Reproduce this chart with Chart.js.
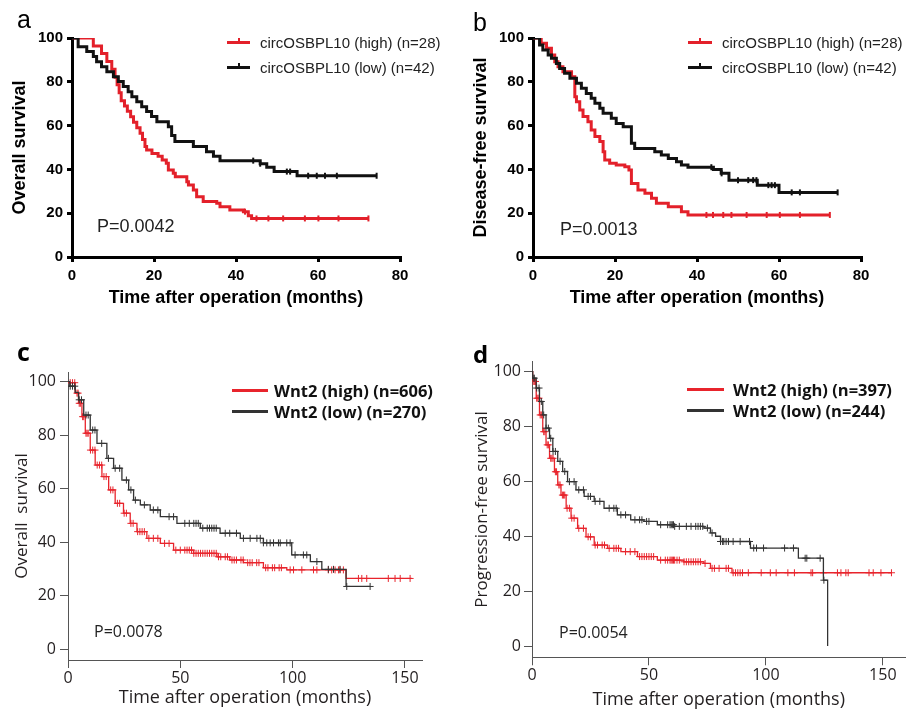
<!DOCTYPE html>
<html><head><meta charset="utf-8">
<script src="https://cdn.jsdelivr.net/npm/chart.js@4.4.1/dist/chart.umd.min.js"></script>
<style>
html,body{margin:0;padding:0;background:#fff;}
#wrap{position:relative;width:910px;height:710px;overflow:hidden;background:#fff;}
canvas{position:absolute;}
.txt{position:absolute;white-space:nowrap;transform:translateY(-50%);}
</style></head><body>
<div id="wrap">
<canvas id="ca" width="455" height="320" style="left:0;top:0"></canvas>
<canvas id="cb" width="455" height="320" style="left:455px;top:0"></canvas>
<canvas id="cc" width="455" height="380" style="left:0;top:330px"></canvas>
<canvas id="cd" width="455" height="380" style="left:455px;top:330px"></canvas>
</div>
<script>
// ---------- Panel a: Overall survival, circOSBPL10 ----------
const aHighT = [0,5.2,7.2,8.5,9.7,10.5,11,11.5,12,12.8,13.5,14.3,15,15.8,16.6,17.2,17.8,18.2,19.5,21,22,23,23.5,24.7,25.2,28,28.4,29.6,30.4,32,35.3,36.1,38.5,41.8,43,43.8,72.3];
const aHighS = [100,96.4,92.9,89.3,85.7,82.1,78.6,75,71.4,69,66.5,64,61.5,59,56.5,53.6,50.5,48.9,47.3,46,44.3,42.8,39.7,38.2,36.7,34.4,32.9,30.6,27.5,25.3,24.5,23,21.5,20.7,18.8,17.6,17.6];
const aHighC = [42.2,45,47.9,51.5,56.8,60.1,65,72.3];
const aLowT = [0,1.5,3.6,5.2,6,7.2,8.5,10.1,11.3,12.5,13.7,14.6,15.8,17,18.2,19.4,20.7,23.5,24.3,25.1,29.6,32.8,34.5,36.1,45.9,47.5,49.3,54.9,74.3];
const aLowS = [100,96,93.8,91.5,89.2,86.9,84.6,82.3,80.1,77.8,75.5,73.2,70.9,68.6,66.4,64.1,61.8,59.5,55.5,52.7,50.4,48.1,46,44,42.6,41,39,37.1,37.1];
const aLowC = [44.2,45.9,52.4,53.2,57.6,59.7,61.7,64.6,74.3];

// ---------- Panel b: Disease-free survival, circOSBPL10 ----------
const bHighT = [0,2,3.3,4.5,5.3,6.1,7.3,9.4,10.2,10.6,11.4,12.2,13.4,14.2,15.1,16.3,17.1,17.5,18.7,20.3,22.4,23.4,24,25.6,27.3,28.9,30.1,33,36.2,37.8,72.4];
const bHighS = [100,97.6,95.3,92.2,89.1,86.9,84.6,82.3,73.2,70.9,67.1,64.1,61.8,58,55,52.7,48.1,44.3,42.8,42,41.2,39.7,33.6,30.6,29.1,26.8,24.5,23,20.7,19.2,19.2];
const bHighC = [42.3,43.9,46.4,48.4,52.1,57,60.2,65.1,72.4];
const bLowT = [0,1.6,2.4,3.7,4.5,5.7,6.5,7.7,9,10.6,11.8,13,14.2,15.1,16.3,17.1,19.1,20.3,22,24,24.8,29.7,31.3,33,35,36.2,37.8,44,45.9,47.8,54.7,60,74.3];
const bLowS = [100,96.8,94.5,92.2,90.7,88.4,86.1,83.9,81.6,79.3,77,74.7,72.5,70.2,67.9,65.6,63.3,61,59.5,51.9,49.6,48.1,46.6,45,43.5,42,41,40,38.2,35.1,32.8,29.5,29.5];
const bLowC = [43.5,46,50,52.5,53.7,54.5,57.4,58.2,59,63.1,65.1,74.3];

// ---------- Panel c: Overall survival, Wnt2 ----------
const cHighT = [0,0.3,3.2,4.7,6.2,7.7,9.9,12.1,15.1,18.1,21,24.7,27.7,30.7,35.1,41.1,47,55.9,66.3,72,78.1,87,97.4,123.8,153];
const cHighS = [100,99.6,95.7,91.9,86.9,80.7,74.4,68.8,64.5,59.5,54.5,50.8,47,43.9,41.4,39.5,37,35.8,34.5,33.3,32.3,30.4,29.6,26.4,26.4];
const cHighC = [1,2,3,4,4.5,5,5.5,6.5,7,8,8.5,9,10,11,12,13,14,15,16,17,19,20,22,23,25,26,28,29,31,32,33,34,36,38,40,43,45,48,50,52,53,54,55,56,57,58,59,60,61,62,63,64,65,66,67,68,70,71,73,74,75,77,78,80,81,82,84,85,88,89,91,92,94,95,98.9,100.4,104.1,109.3,110.8,115.9,117.4,118.9,120.4,121.1,122.6,129.3,130.8,133,142.6,145.6,147.9,152.3];
const cLowT = [0,0.8,3.2,4.7,7,9.9,12.9,17.3,20.3,24,27,29.2,32.2,36.6,41.1,48.5,58.9,67.7,76.7,87,99.6,107.9,113,123.8,134.5];
const cLowS = [100,98.3,96,93.2,87.5,81.9,76.9,71.3,67.6,63.2,59.5,55.7,53.9,52,49.5,47,45.2,43.3,41.4,39.7,35.2,32.7,29.8,23.4,23.4];
const cLowC = [1,2,3,5,6,8,9,11,12,15,18,21,23,26,28,30,34,38,40,45,47,52,54,56,57,58,60,62,63,64,65,66,70,72,75,78.1,81.1,84.1,85.6,87,88.5,90,91.5,93.7,94.5,97.4,98.9,101.1,104.8,106.3,110.8,115.9,118.2,121.1,124.1,134.5];

// ---------- Panel d: Progression-free survival, Wnt2 ----------
const dHighT = [0,0.3,1.8,3.2,4.6,6,7.5,9.6,11,12.4,14.6,16.7,19.5,23.1,26.6,32.3,38,45.1,53.6,64.9,73.5,76.3,85.5,153.7];
const dHighS = [100,96.4,90.3,84.2,78.1,73.3,68.4,63.5,58.7,55,50.2,46.6,42.9,39.8,36.8,35.6,34.4,32.6,31.3,30.7,30.1,28.3,26.7,26.7];
const dHighC = [0.5,1,1.5,2,2.5,3,3.5,4,5,5.5,6.5,7,8,8.5,9,10,10.5,11.5,12,13,13.5,14,15,16,17,18,20,22,24,25,27,28,30,31,33,35,36,37,40,42,44,46,47,48,49,50,51,52,55,57,58,59,59.5,60,60.5,61,62,63,65,66,67,68,69,70,71,72,74,77,78,80,83,84,86,87,88,89,90,92.5,98,101.9,104.4,109.4,112.2,119.3,120,124.6,130.6,132.1,134.2,135.2,144.1,145.9,149.2,153.7];
const dLowT = [0,0.3,1.8,3.2,4.6,6,7.5,8.9,11,13.1,15.2,18.8,22.3,26.6,30.8,36.5,42.2,47.9,53.6,60.7,73.5,76.3,78.5,80.6,93.4,113.9,124.6,126.4];
const dLowS = [100,97.6,94,89.1,84.2,79.4,75.7,70.9,67.3,63.6,59.9,56.9,54.5,52.7,50.2,47.8,46,45.4,44.2,43.6,43,41.2,40,38.1,35.7,32,24,0];
const dLowC = [0.5,1,2,3,4,5,6,7,8,9,10,12,14,16,18,20,22,24,25,27,29,33,35,36,38,40,44,46,47,49,50,55,58,59,59.5,60,60.5,61,63,66,68,70,71,72,73,75,77,80.6,81.5,82,83,84,86,89,93,94.8,96,99,108,111.8,116.8,117.5,123.2,124.8];

// ---------- Tick labels ----------
const abXTicks = [0,20,40,60,80];
const abYTicks = [0,20,40,60,80,100];
const cdXTicks = [0,50,100,150];
const cdYTicks = [0,20,40,60,80,100];

// ---------- helpers ----------
function stepAt(T,S,t){let v=S[0];for(let i=0;i<T.length;i++){if(T[i]<=t)v=S[i];else break;}return v;}
function pts(T,S){return T.map((t,i)=>({x:t,y:S[i]}));}
function cens(C,T,S){return C.map(t=>({x:t,y:stepAt(T,S,t)}));}

function km(id,o){
  const ds=[];
  o.series.forEach(s=>ds.push({type:'line',label:s.label,data:pts(s.T,s.S),borderColor:s.color,backgroundColor:s.color,
    borderWidth:o.lw,stepped:true,pointRadius:0,pointHoverRadius:0,fill:false,tension:0,order:s.order}));
  o.series.forEach(s=>ds.push({type:'scatter',label:s.label+' (censored)',data:cens(s.C,s.T,s.S),borderColor:s.color,backgroundColor:s.color,
    pointStyle:o.cStyle,pointRotation:o.cRot,pointRadius:o.cR,pointHoverRadius:o.cR,pointBorderWidth:o.cW,showLine:false,order:s.order}));
  const axisCommon=(ticksArr,fitKey,fitVal,tickPad,title,titleFont,titlePad)=>({
    type:'linear',
    afterBuildTicks:s=>{s.ticks=ticksArr.map(v=>({value:v}));},
    afterFit:s=>{s[fitKey]=fitVal;},
    grid:{display:true,drawOnChartArea:false,drawTicks:true,tickLength:o.tl,tickWidth:o.tw,tickColor:o.ac,color:o.ac,lineWidth:o.tw},
    border:{display:true,color:o.ac,width:o.aw},
    ticks:{font:o.tickFont,color:o.tc,padding:tickPad,maxRotation:0,minRotation:0,autoSkip:false},
    title:{display:true,text:title,font:titleFont,color:o.tc,padding:titlePad}
  });
  const x=axisCommon(o.xTicks,'height',o.xH,o.xtp,o.xTitle,o.xTitleFont||o.titleFont,{top:0,bottom:o.xtb});
  x.min=o.xmin;x.max=o.xmax;x.position='bottom';
  const y=axisCommon(o.yTicks,'width',o.yW,o.ytp,o.yTitle,o.titleFont,{top:o.ytt,bottom:0});
  y.min=o.ymin;y.max=o.ymax;y.position='left';
  return new Chart(document.getElementById(id),{
    data:{datasets:ds},
    options:{responsive:false,animation:false,devicePixelRatio:1,
      layout:{padding:{left:0,bottom:0,top:o.pt,right:o.pr}},
      plugins:{legend:{display:false},tooltip:{enabled:false},title:{display:false}},
      scales:{x,y}}
  });
}

const wrap=document.getElementById('wrap');
function addText(txt,x,yc,font,color){
  const d=document.createElement('div');d.className='txt';d.textContent=txt;
  d.style.left=x+'px';d.style.top=yc+'px';d.style.font=font;d.style.color=color;wrap.appendChild(d);
}
function htmlLegend(chart,L){
  chart.data.datasets.filter(d=>d.type==='line').forEach((d,i)=>{
    const yc=L.y0+i*L.dy;
    const ln=document.createElement('div');
    ln.style.cssText=`position:absolute;left:${L.x}px;top:${yc-L.lh/2}px;width:${L.w}px;height:${L.lh}px;background:${d.borderColor}`;
    wrap.appendChild(ln);
    if(L.tick){const t=document.createElement('div');
      t.style.cssText=`position:absolute;left:${L.x+L.w/2-1}px;top:${yc-L.lh/2-3}px;width:2px;height:3px;background:${d.borderColor}`;
      wrap.appendChild(t);}
    addText(d.label,L.tx,yc,L.font,L.color);
  });
}

const RED_AB='#e3202a', BLK_AB='#111111', RED_CD='#e8242c', BLK_CD='#333333';
const ARIAL='"Liberation Sans", Arial, sans-serif';
const OPEN='"Open Sans", "Noto Sans", sans-serif';

const abBase={lw:3,cStyle:'line',cRot:90,cR:3,cW:2,tl:5,tw:3,ac:'#000',aw:3,tc:'#000',
  tickFont:{family:ARIAL,size:15,weight:'bold'},titleFont:{family:ARIAL,size:18,weight:'bold'},
  xmin:0,xmax:80,ymin:0,ymax:100,xTicks:abXTicks,yTicks:abYTicks,xH:63,xtp:5,xtb:11,pt:38,ytp:4,xTitle:'Time after operation (months)'};

const chA=km('ca',Object.assign({},abBase,{yW:72,pr:55,ytt:9,yTitle:'Overall survival',
  series:[{label:'circOSBPL10 (high) (n=28)',T:aHighT,S:aHighS,C:aHighC,color:RED_AB,order:2},
          {label:'circOSBPL10 (low) (n=42)',T:aLowT,S:aLowS,C:aLowC,color:BLK_AB,order:1}]}));
const chB=km('cb',Object.assign({},abBase,{yW:78,pr:49,ytt:15,yTitle:'Disease-free survival',
  series:[{label:'circOSBPL10 (high) (n=28)',T:bHighT,S:bHighS,C:bHighC,color:RED_AB,order:2},
          {label:'circOSBPL10 (low) (n=42)',T:bLowT,S:bLowS,C:bLowC,color:BLK_AB,order:1}]}));

const cdBase={lw:1.3,cStyle:'cross',cRot:0,cR:3.5,cW:1,tl:8,tw:1,ac:'#555',aw:1,tc:'#231f20',
  tickFont:{family:OPEN,size:16},titleFont:{family:OPEN,size:17},xTitleFont:{family:OPEN,size:18},
  xmin:0,ymin:-4.1,ymax:103.6,xTicks:cdXTicks,yTicks:cdYTicks,xtp:1,xTitle:'Time after operation (months)'};

const chC=km('cc',Object.assign({},cdBase,{xmax:157.6,yW:68,pr:33,pt:42,xH:50,xtb:1,ytp:4,ytt:12,yTitle:'Overall  survival',
  series:[{label:'Wnt2 (high) (n=606)',T:cHighT,S:cHighS,C:cHighC,color:RED_CD,order:2},
          {label:'Wnt2 (low) (n=270)',T:cLowT,S:cLowS,C:cLowC,color:BLK_CD,order:1}]}));
const chD=km('cd',Object.assign({},cdBase,{xmax:159.7,yW:77,pr:3,pt:31.7,xH:52.7,xtb:-1,ytp:3,ytt:17,yTitle:'Progression-free survival',
  series:[{label:'Wnt2 (high) (n=397)',T:dHighT,S:dHighS,C:dHighC,color:RED_CD,order:2},
          {label:'Wnt2 (low) (n=244)',T:dLowT,S:dLowS,C:dLowC,color:BLK_CD,order:1}]}));

// legends
htmlLegend(chA,{x:227,w:23,lh:3,y0:42,dy:25,tick:true,tx:260,font:`15px ${ARIAL}`,color:'#222'});
htmlLegend(chB,{x:688,w:24,lh:3,y0:42,dy:25,tick:true,tx:722,font:`15px ${ARIAL}`,color:'#222'});
htmlLegend(chC,{x:232,w:36,lh:3,y0:390,dy:21,tick:false,tx:274,font:`bold 16.5px ${OPEN}`,color:'#111'});
htmlLegend(chD,{x:687,w:37,lh:3,y0:389,dy:21,tick:false,tx:733,font:`bold 16.5px ${OPEN}`,color:'#111'});

// panel letters and P values
addText('a',17,18.7,`25px ${ARIAL}`,'#000');
addText('b',473,21.7,`25px ${ARIAL}`,'#000');
addText('c',17,351,`bold 25px ${OPEN}`,'#000');
addText('d',473,352.7,`bold 24px ${OPEN}`,'#000');
addText('P=0.0042',97,226,`18px ${ARIAL}`,'#222');
addText('P=0.0013',560,229,`18px ${ARIAL}`,'#222');
addText('P=0.0078',94,630.8,`16px ${OPEN}`,'#222');
addText('P=0.0054',559,631.8,`16px ${OPEN}`,'#222');
</script>
</body></html>
